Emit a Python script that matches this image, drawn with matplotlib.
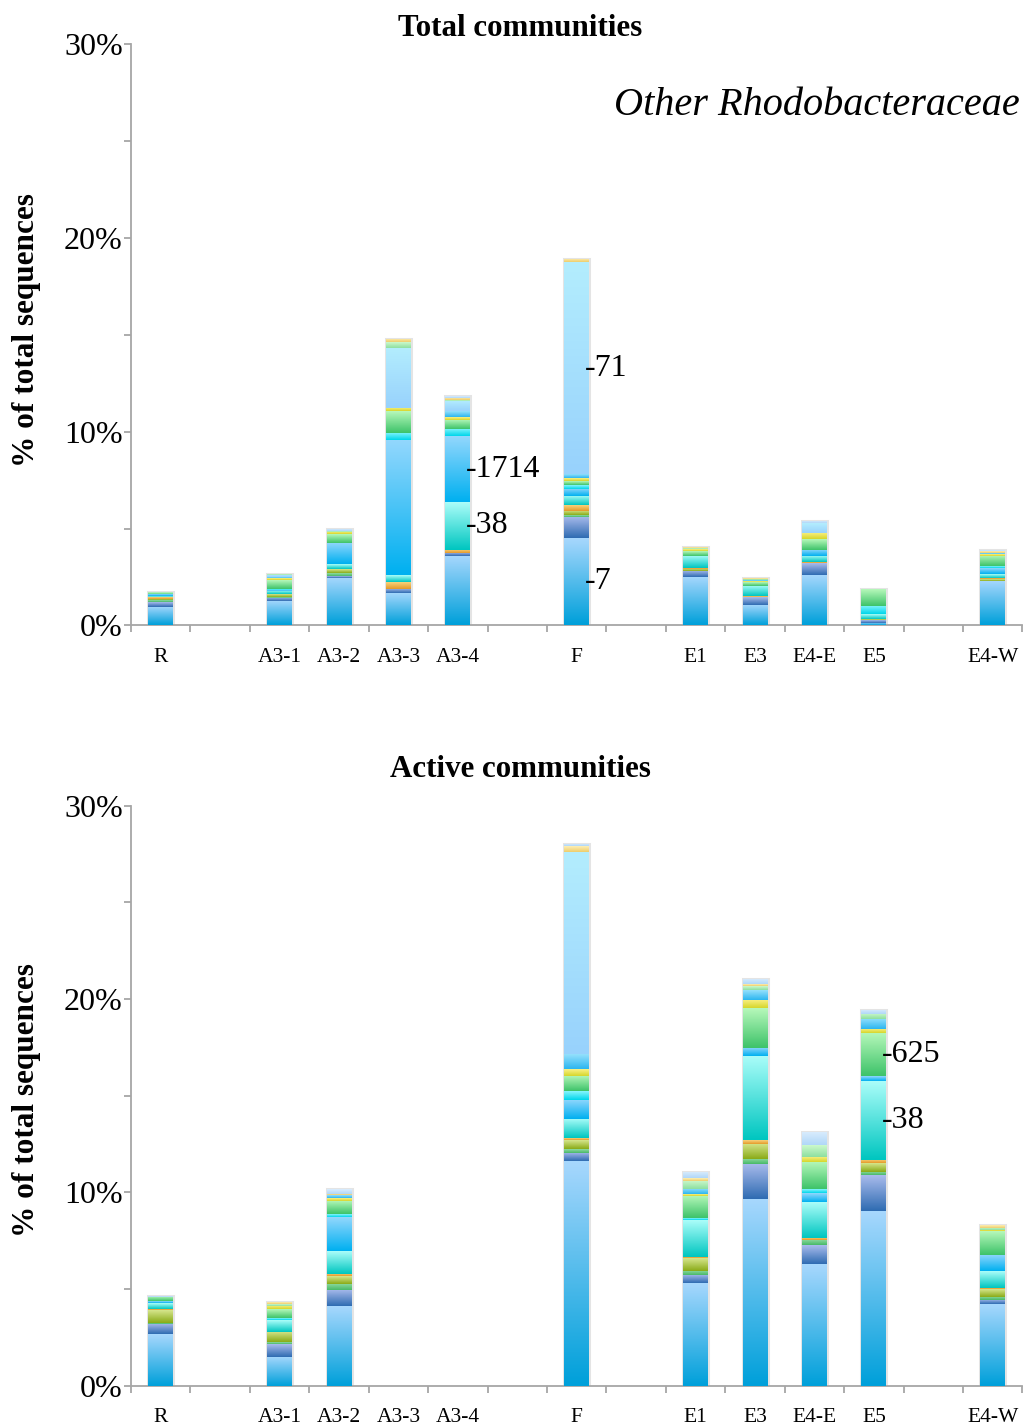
import numpy as np
import matplotlib
matplotlib.use('Agg')
import matplotlib.pyplot as plt
from matplotlib.colors import to_rgb

plt.rcParams['font.family'] = ['Liberation Serif', 'DejaVu Serif']

# ---------------- samples and slots on the x axis ---------------- #
samples = ['R', 'A3-1', 'A3-2', 'A3-3', 'A3-4', 'F', 'E1', 'E3', 'E4-E', 'E5', 'E4-W']
slots = [0, 2, 3, 4, 5, 7, 9, 10, 11, 12, 14]

# stacking groups (bottom to top) and their gradient colours (bottom, top)
groups = ['otu7', 'slate', 'green2', 'olive', 'orange', 'otu38', 'otu1714', 'cyan',
          'otu625', 'yellow', 'sky', 'otu71', 'ltgreen', 'cream', 'skytop']
shades = {
    'otu7':    ('#00a0da', '#a6d7fd'),
    'slate':   ('#2f6cb2', '#a9bbec'),
    'green2':  ('#48b968', '#90dba2'),
    'olive':   ('#8aab18', '#d5e58c'),
    'orange':  ('#e49a2a', '#f8d27c'),
    'otu38':   ('#00c6c0', '#aafdf9'),
    'otu1714': ('#00b0f0', '#92d7fd'),
    'cyan':    ('#00d6ea', '#86f5fd'),
    'otu625':  ('#3ec36a', '#b6f8ba'),
    'yellow':  ('#d6d62c', '#faf186'),
    'sky':     ('#2cb6f0', '#94e0fc'),
    'otu71':   ('#98d2fc', '#b3edfe'),
    'ltgreen': ('#8edfa0', '#ccf9cc'),
    'cream':   ('#eecd6c', '#fdefb4'),
    'skytop':  ('#b0d7f8', '#dbedfd'),
}

# ---------------- Total communities (% of total sequences) ---------------- #
tot_otu7    = [0.97, 1.25, 2.46, 1.69, 3.58, 4.49, 2.49, 1.08, 2.63, 0.15, 2.29]
tot_slate   = [0.23, 0.18, 0.09, 0.21, 0.17, 1.10, 0.31, 0.40, 0.57, 0.12, 0.00]
tot_green2  = [0.10, 0.05, 0.14, 0.00, 0.00, 0.10, 0.00, 0.00, 0.00, 0.00, 0.00]
tot_olive   = [0.08, 0.12, 0.20, 0.00, 0.00, 0.21, 0.13, 0.00, 0.00, 0.05, 0.10]
tot_orange  = [0.08, 0.03, 0.05, 0.32, 0.17, 0.30, 0.06, 0.05, 0.07, 0.00, 0.07]
tot_otu38   = [0.05, 0.17, 0.21, 0.36, 2.45, 0.48, 0.62, 0.52, 0.34, 0.25, 0.20]
tot_otu1714 = [0.10, 0.05, 1.12, 6.97, 3.40, 0.38, 0.00, 0.00, 0.31, 0.00, 0.30]
tot_cyan    = [0.03, 0.05, 0.00, 0.40, 0.39, 0.20, 0.00, 0.00, 0.00, 0.43, 0.10]
tot_otu625  = [0.03, 0.45, 0.43, 1.11, 0.47, 0.20, 0.23, 0.20, 0.52, 0.86, 0.52]
tot_yellow  = [0.03, 0.10, 0.12, 0.18, 0.14, 0.15, 0.10, 0.05, 0.35, 0.00, 0.10]
tot_sky     = [0.00, 0.05, 0.00, 0.00, 0.29, 0.20, 0.00, 0.05, 0.00, 0.00, 0.05]
tot_otu71   = [0.00, 0.12, 0.00, 3.10, 0.52, 10.93, 0.00, 0.00, 0.48, 0.00, 0.00]
tot_ltgreen = [0.02, 0.05, 0.05, 0.29, 0.05, 0.00, 0.05, 0.06, 0.00, 0.00, 0.00]
tot_cream   = [0.00, 0.00, 0.00, 0.17, 0.12, 0.16, 0.05, 0.05, 0.00, 0.00, 0.10]
tot_skytop  = [0.00, 0.00, 0.12, 0.00, 0.09, 0.00, 0.00, 0.00, 0.11, 0.00, 0.05]

# ---------------- Active communities (% of total sequences) ---------------- #
act_otu7    = [2.68, 1.51, 4.10, 0, 0, 11.61, 5.31, 9.64, 6.30, 9.05, 4.23]
act_slate   = [0.52, 0.66, 0.83, 0, 0, 0.44, 0.42, 1.84, 0.98, 1.85, 0.21]
act_green2  = [0.06, 0.07, 0.33, 0, 0, 0.19, 0.21, 0.26, 0.26, 0.16, 0.17]
act_olive   = [0.64, 0.56, 0.40, 0, 0, 0.45, 0.65, 0.78, 0.00, 0.44, 0.38]
act_orange  = [0.08, 0.00, 0.14, 0, 0, 0.10, 0.09, 0.18, 0.12, 0.17, 0.07]
act_otu38   = [0.28, 0.61, 1.17, 0, 0, 1.01, 1.91, 4.35, 1.86, 4.08, 0.86]
act_otu1714 = [0.10, 0.00, 1.75, 0, 0, 0.99, 0.00, 0.43, 0.46, 0.25, 0.86]
act_cyan    = [0.00, 0.09, 0.14, 0, 0, 0.45, 0.09, 0.00, 0.17, 0.00, 0.00]
act_otu625  = [0.21, 0.46, 0.69, 0, 0, 0.80, 1.15, 2.06, 1.43, 2.24, 1.20]
act_yellow  = [0.00, 0.18, 0.14, 0, 0, 0.35, 0.09, 0.42, 0.26, 0.22, 0.07]
act_sky     = [0.00, 0.00, 0.15, 0, 0, 0.75, 0.26, 0.50, 0.00, 0.52, 0.00]
act_otu71   = [0.00, 0.00, 0.00, 0, 0, 10.46, 0.00, 0.00, 0.00, 0.00, 0.00]
act_ltgreen = [0.00, 0.08, 0.00, 0, 0, 0.00, 0.42, 0.20, 0.60, 0.26, 0.12]
act_cream   = [0.00, 0.10, 0.08, 0, 0, 0.30, 0.12, 0.10, 0.00, 0.00, 0.14]
act_skytop  = [0.08, 0.00, 0.23, 0, 0, 0.13, 0.32, 0.26, 0.69, 0.21, 0.00]

total = dict(zip(groups, [tot_otu7, tot_slate, tot_green2, tot_olive, tot_orange, tot_otu38,
                          tot_otu1714, tot_cyan, tot_otu625, tot_yellow, tot_sky, tot_otu71,
                          tot_ltgreen, tot_cream, tot_skytop]))
active = dict(zip(groups, [act_otu7, act_slate, act_green2, act_olive, act_orange, act_otu38,
                           act_otu1714, act_cyan, act_otu625, act_yellow, act_sky, act_otu71,
                           act_ltgreen, act_cream, act_skytop]))

# OTU labels written next to a segment: (sample, group, text)
total_notes = [('A3-4', 'otu1714', '-1714'), ('A3-4', 'otu38', '-38'),
               ('F', 'otu71', '-71'), ('F', 'otu7', '-7')]
active_notes = [('E5', 'otu625', '-625'), ('E5', 'otu38', '-38')]

axis_grey = '#a6a6a6'
bar_w = 0.42


def gradient(g):
    lo, hi = np.array(to_rgb(shades[g][0])), np.array(to_rgb(shades[g][1]))
    t = np.linspace(0, 1, 48)[:, None, None]
    return lo + (hi - lo) * t


def draw_panel(ax, table, notes):
    bottom = np.zeros(len(samples))
    mids = {}
    for g in groups:
        vals = np.array(table[g], dtype=float)
        bars = ax.bar(slots, vals, bar_w, bottom=bottom, color=shades[g][1],
                      linewidth=0, zorder=2)
        img = gradient(g)
        for rect, v in zip(bars, vals):
            if v <= 0:
                continue
            x0, y0 = rect.get_x(), rect.get_y()
            im = ax.imshow(img, extent=[x0, x0 + rect.get_width(), y0, y0 + rect.get_height()],
                           aspect='auto', origin='lower', interpolation='bilinear', zorder=3)
            im.set_clip_path(rect)
        mids[g] = bottom + vals / 2
        bottom = bottom + vals
    # soft shadow round each non-empty bar
    used = [i for i, b in enumerate(bottom) if b > 0]
    ax.bar([slots[i] for i in used], bottom[used], bar_w, color='none',
           edgecolor='#e4e4e4', linewidth=2.2, zorder=1)

    for s, g, txt in notes:
        i = samples.index(s)
        ax.text(slots[i] + 0.13, mids[g][i], txt, fontsize=23, ha='left', va='center', zorder=6)

    ax.set_xlim(-0.5, 14.5)
    ax.set_ylim(0, 30)
    ax.set_aspect('auto')
    for side in ['top', 'right']:
        ax.spines[side].set_visible(False)
    for side in ['left', 'bottom']:
        ax.spines[side].set_color(axis_grey)
        ax.spines[side].set_linewidth(1.3)

    ax.set_xticks(slots)
    ax.set_xticklabels(samples, fontsize=15.5)
    ax.set_xticks(np.arange(-0.5, 15, 1), minor=True)
    ax.tick_params(axis='x', which='major', length=0, pad=16)
    ax.tick_params(axis='x', which='minor', length=5, width=1.3, color=axis_grey)

    ax.set_yticks([0, 10, 20, 30])
    ax.set_yticklabels([f'{v}%' for v in [0, 10, 20, 30]], fontsize=23)
    ax.set_yticks([5, 15, 25], minor=True)
    ax.tick_params(axis='y', which='both', length=5, width=1.3, color=axis_grey, pad=1)


fig = plt.figure(figsize=(10.24, 14.28), dpi=100)
ax_top = fig.add_axes([0.128, 0.5620, 0.8705, 0.4069])
ax_bot = fig.add_axes([0.128, 0.0296, 0.8705, 0.4062])

draw_panel(ax_top, total, total_notes)
draw_panel(ax_bot, active, active_notes)

fig.text(0.508, 0.980, 'Total communities', fontsize=22.3, fontweight='bold', ha='center', va='center')
fig.text(0.508, 0.4612, 'Active communities', fontsize=22.3, fontweight='bold', ha='center', va='center')
fig.text(0.996, 0.9258, 'Other Rhodobacteraceae', fontsize=29, style='italic', ha='right', va='center')
for yc in [0.769, 0.2297]:
    fig.text(0.026, yc, '% of total sequences', fontsize=22.5, fontweight='bold',
             rotation=90, ha='center', va='center')

fig.savefig('out.png', dpi=100)
